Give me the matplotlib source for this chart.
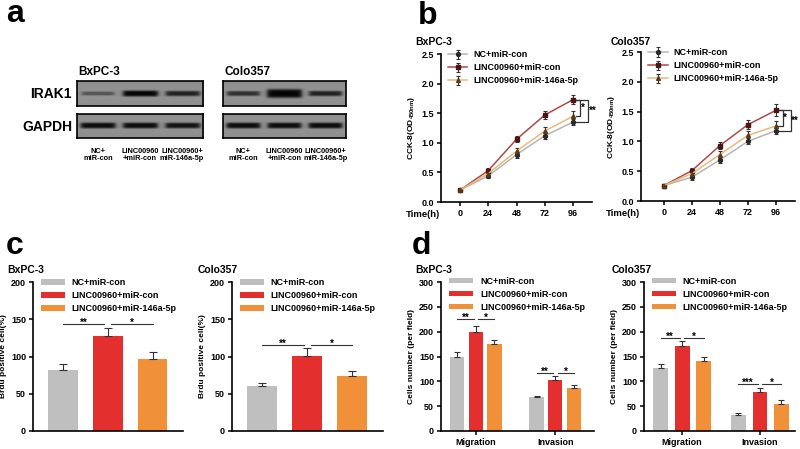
import numpy as np
import matplotlib
matplotlib.use("Agg")
import matplotlib.pyplot as plt

plt.rcParams['font.family'] = ['Liberation Sans', 'DejaVu Sans']
plt.rcParams['font.weight'] = 'bold'
plt.rcParams['axes.labelweight'] = 'bold'

W, H = 800, 449

# ---- data ----
groups = ["NC+miR-con", "LINC00960+miR-con", "LINC00960+miR-146a-5p"]
lane_labels = ["NC+\nmiR-con", "LINC00960\n+miR-con", "LINC00960+\nmiR-146a-5p"]
proteins = ["IRAK1", "GAPDH"]
cell_lines = ["BxPC-3", "Colo357"]

# relative band strength on the blots
irak1_bxpc = [0.45, 1.0, 0.8]
gapdh_bxpc = [0.95, 0.95, 0.9]
irak1_colo = [0.7, 1.8, 0.8]
gapdh_colo = [0.95, 0.95, 0.95]

time_h = [0, 24, 48, 72, 96]
cck_bxpc_nc = [0.20, 0.44, 0.80, 1.12, 1.35]
cck_bxpc_linc = [0.20, 0.53, 1.06, 1.47, 1.73]
cck_bxpc_mir = [0.20, 0.48, 0.86, 1.20, 1.45]
cck_bxpc_nc_err = [0.02, 0.04, 0.05, 0.06, 0.05]
cck_bxpc_linc_err = [0.02, 0.04, 0.05, 0.07, 0.08]
cck_bxpc_mir_err = [0.02, 0.04, 0.05, 0.07, 0.08]

cck_colo_nc = [0.26, 0.40, 0.69, 1.00, 1.18]
cck_colo_linc = [0.26, 0.51, 0.93, 1.28, 1.52]
cck_colo_mir = [0.26, 0.46, 0.78, 1.10, 1.26]
cck_colo_nc_err = [0.02, 0.04, 0.05, 0.05, 0.05]
cck_colo_linc_err = [0.02, 0.04, 0.06, 0.08, 0.10]
cck_colo_mir_err = [0.02, 0.04, 0.06, 0.07, 0.08]

brdu_bxpc = [82, 127, 97]
brdu_bxpc_err = [8, 11, 9]
brdu_colo = [60, 101, 74]
brdu_colo_err = [5, 10, 6]
brdu_sig = ["**", "*"]

assays = ["Migration", "Invasion"]
cells_bxpc = [[150, 200, 176], [68, 103, 86]]
cells_bxpc_err = [[9, 11, 8], [3, 8, 7]]
cells_colo = [[126, 172, 140], [33, 78, 55]]
cells_colo_err = [[8, 10, 9], [4, 8, 7]]
cells_bxpc_sig = [["**", "*"], ["**", "*"]]
cells_colo_sig = [["**", "*"], ["***", "*"]]

bar_colors = ["#bfbfbf", "#e3302f", "#f0913a"]
line_colors = ["#b5b5b5", "#b04848", "#e9b97c"]
marker_colors = ["#2a2a2a", "#4a1515", "#5a3a15"]
markers = ["o", "s", "^"]

fig = plt.figure(figsize=(W / 100, H / 100), dpi=100)


def px_axes(x0, y0, x1, y1):
    return fig.add_axes([x0 / W, 1 - y1 / H, (x1 - x0) / W, (y1 - y0) / H])


def px_text(x, y, s, **kw):
    fig.text(x / W, 1 - y / H, s, **kw)


def style_axes(ax):
    for side in ["top", "right"]:
        ax.spines[side].set_visible(False)
    for side in ["left", "bottom"]:
        ax.spines[side].set_linewidth(1.2)
    ax.tick_params(direction="out", length=3, width=1.1, labelsize=6.5, pad=2)
    for lab in ax.get_xticklabels() + ax.get_yticklabels():
        lab.set_fontweight("bold")


def add_legend(ax, **kw):
    ax.legend(loc="upper left", frameon=False, fontsize=6.5, borderaxespad=0,
              labelspacing=0.45, **kw)


# ---- panel letters ----
for x, y, s in [(6, 22, "a"), (418, 24, "b"), (6, 254, "c"), (412, 254, "d")]:
    px_text(x, y, s, fontsize=23, fontweight="bold", va="baseline")

# ---- a: western blots ----
def draw_blot(ax, strength):
    ny, nx = 40, 300
    yy, xx = np.mgrid[0:ny, 0:nx]
    yf = (yy + 0.5) / ny
    xf = (xx + 0.5) / nx * 3
    img = np.full((ny, nx), 0.58) - 0.05 * np.abs(yf - 0.5)
    for i, s in enumerate(strength):
        half_w = 0.36 + 0.05 * min(s, 1.2)
        half_h = 0.05 + 0.07 * s
        xprof = 1 / (1 + np.exp((np.abs(xf - (i + 0.5)) - half_w) / 0.03))
        yprof = np.exp(-((yf - 0.5) / half_h) ** 4)
        img = img - 0.56 * min(s, 1.0) * xprof * yprof
    ax.imshow(np.clip(img, 0, 1), cmap="gray", vmin=0, vmax=1,
              extent=(0, 3, 0, 1), aspect="auto", interpolation="bilinear")
    ax.set_xticks([])
    ax.set_yticks([])
    for sp in ax.spines.values():
        sp.set_linewidth(1.2)


blot_x = [(77, 203), (223, 346)]
blot_y = [(81, 106), (114, 138)]
blot_data = [[irak1_bxpc, gapdh_bxpc], [irak1_colo, gapdh_colo]]
for c, (x0, x1) in enumerate(blot_x):
    for p, (y0, y1) in enumerate(blot_y):
        ax = px_axes(x0, y0, x1, y1)
        draw_blot(ax, blot_data[c][p])
    px_text(x0 + 1, 75, cell_lines[c], fontsize=8.5, fontweight="bold")
    lane_w = (x1 - x0) / 3
    for i, lab in enumerate(lane_labels):
        px_text(x0 + lane_w * (i + 0.5), 155, lab, fontsize=5.3, fontweight="bold",
                ha="center", va="center", linespacing=1.05)
for p, (y0, y1) in enumerate(blot_y):
    px_text(72, (y0 + y1) / 2 + 1, proteins[p], fontsize=10, fontweight="bold",
            ha="right", va="center")

# ---- b: CCK-8 curves ----
def draw_cck(ax, series, errs, title, title_x, px_per_24):
    for k in range(3):
        ax.errorbar(time_h, series[k], yerr=errs[k], color=line_colors[k], lw=1.1,
                    marker=markers[k], ms=2.8, mfc=marker_colors[k], mec=marker_colors[k],
                    ecolor="#333333", elinewidth=0.8, capsize=1.6, capthick=0.8,
                    label=groups[k], zorder=3)
    ax.set_ylim(0, 2.5)
    ax.set_yticks([0, 0.5, 1.0, 1.5, 2.0, 2.5])
    ax.set_yticklabels(["0.0", "0.5", "1.0", "1.5", "2.0", "2.5"])
    ax.set_xticks(time_h)
    ax.set_ylabel("CCK-8(OD$_{\\mathregular{450nm}}$)", fontsize=6, labelpad=3)
    style_axes(ax)
    add_legend(ax, bbox_to_anchor=(0.02, 1.05), handlelength=2.2, handletextpad=0.6)
    ax.text(-0.005, -0.085, "Time(h)", transform=ax.transAxes, fontsize=6.8,
            fontweight="bold", ha="right", va="center")
    # significance brackets at 96 h
    x_pt = time_h[-1]
    top = series[1][-1]
    px2data = 24 / px_per_24
    for bottom, xv, star in [(series[2][-1], x_pt + 7 * px2data, "*"),
                             (series[0][-1], x_pt + 15 * px2data, "**")]:
        xs = x_pt + 2.5 * px2data
        ax.plot([xs, xv, xv, xs], [top, top, bottom, bottom], color="#333333",
                lw=0.9, clip_on=False)
        ax.text(xv + 0.6 * px2data, (top + bottom) / 2, star, fontsize=7,
                ha="left", va="center", clip_on=False)
    px_text(title_x, 45, title, fontsize=7.5, fontweight="bold")


ax = px_axes(441, 54, 592, 202)
ax.set_xlim(-16, 112)
draw_cck(ax, [cck_bxpc_nc, cck_bxpc_linc, cck_bxpc_mir],
         [cck_bxpc_nc_err, cck_bxpc_linc_err, cck_bxpc_mir_err], "BxPC-3", 415, 28.2)

ax = px_axes(641, 52, 795, 201)
ax.set_xlim(-19.7, 112.5)
draw_cck(ax, [cck_colo_nc, cck_colo_linc, cck_colo_mir],
         [cck_colo_nc_err, cck_colo_linc_err, cck_colo_mir_err], "Colo357", 611, 28.0)


# ---- c: Brdu bars ----
def sig_line(ax, x0, x1, y, star):
    ax.plot([x0, x1], [y, y], color="#333333", lw=0.8)
    ax.annotate(star, ((x0 + x1) / 2, y), xytext=(0, -1.2), textcoords="offset points",
                fontsize=7, ha="center", va="baseline")


def draw_brdu(ax, vals, errs, title, title_x, sig_y):
    xs = np.arange(3)
    for k in range(3):
        ax.bar(xs[k], vals[k], width=0.66, color=bar_colors[k], label=groups[k], zorder=2)
        ax.errorbar(xs[k], vals[k], yerr=[[0], [errs[k]]], color="#333333",
                    elinewidth=0.8, capsize=3, capthick=0.8, zorder=3)
    sig_line(ax, 0, 0.92, sig_y, brdu_sig[0])
    sig_line(ax, 1.08, 2, sig_y, brdu_sig[1])
    ax.set_xlim(-0.67, 2.68)
    ax.set_ylim(0, 200)
    ax.set_yticks([0, 50, 100, 150, 200])
    ax.set_xticks([])
    ax.set_ylabel("Brdu positive cell(%)", fontsize=6, labelpad=3)
    style_axes(ax)
    add_legend(ax, bbox_to_anchor=(0.03, 1.05), handlelength=2.6, handleheight=0.55,
               handletextpad=0.8)
    px_text(title_x, 273, title, fontsize=7.5, fontweight="bold")


ax = px_axes(33, 282, 183, 431)
draw_brdu(ax, brdu_bxpc, brdu_bxpc_err, "BxPC-3", 7, 143)
ax = px_axes(232, 282, 383, 431)
draw_brdu(ax, brdu_colo, brdu_colo_err, "Colo357", 198, 115)


# ---- d: migration / invasion bars ----
def draw_cells(ax, vals, errs, sigs, sig_ys, title, title_x, off, width, xlim):
    for k in range(3):
        xk = np.arange(2) + (k - 1) * off
        heights = [vals[g][k] for g in range(2)]
        ax.bar(xk, heights, width=width, color=bar_colors[k], label=groups[k], zorder=2)
        ax.errorbar(xk, heights, yerr=[[0, 0], [errs[g][k] for g in range(2)]],
                    fmt="none", ecolor="#333333", elinewidth=0.8, capsize=2.2,
                    capthick=0.8, zorder=3)
    for g in range(2):
        sig_line(ax, g - off, g - 0.03, sig_ys[g], sigs[g][0])
        sig_line(ax, g + 0.03, g + off, sig_ys[g], sigs[g][1])
    ax.set_xlim(*xlim)
    ax.set_ylim(0, 300)
    ax.set_yticks([0, 50, 100, 150, 200, 250, 300])
    ax.set_xticks([0, 1])
    ax.set_xticklabels(assays)
    ax.set_ylabel("Cells number (per field)", fontsize=6, labelpad=3)
    style_axes(ax)
    add_legend(ax, bbox_to_anchor=(0.03, 1.06), handlelength=2.6, handleheight=0.55,
               handletextpad=0.8)
    px_text(title_x, 273, title, fontsize=7.5, fontweight="bold")


ax = px_axes(441, 282, 594, 431)
draw_cells(ax, cells_bxpc, cells_bxpc_err, cells_bxpc_sig, [225, 117],
           "BxPC-3", 415, 0.234, 0.18, (-0.44, 1.49))
ax = px_axes(644, 282, 795, 431)
draw_cells(ax, cells_colo, cells_colo_err, cells_colo_sig, [187, 95],
           "Colo357", 612, 0.276, 0.19, (-0.49, 1.45))

fig.savefig("out.png", dpi=100)
